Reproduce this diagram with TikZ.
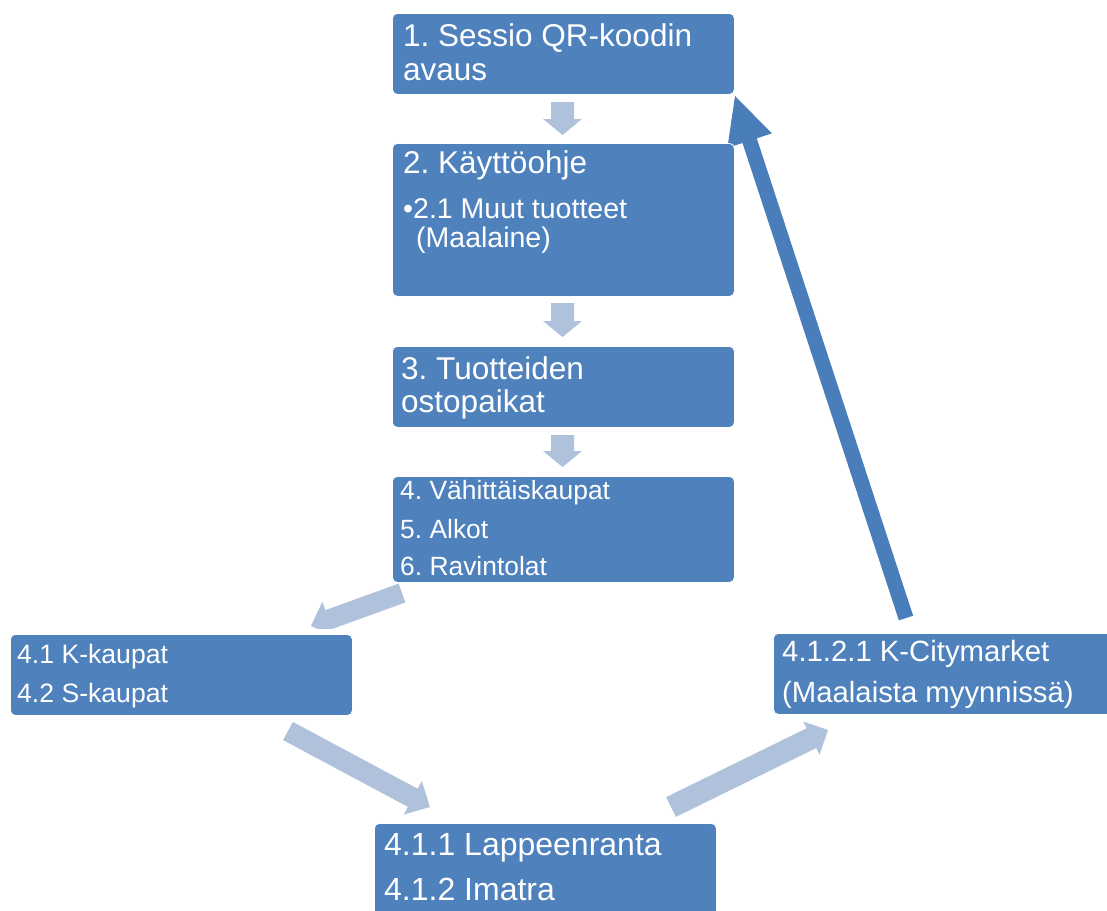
\documentclass[tikz,border=0pt]{standalone}
\usepackage{fontspec}
\setmainfont{Liberation Sans}
\usetikzlibrary{calc}
\frenchspacing
\definecolor{boxblue}{HTML}{4F81BD}
\definecolor{lightarrow}{HTML}{B0C1DC}
\definecolor{darkarrow}{HTML}{4A7EBB}
\tikzset{
  box/.style={fill=boxblue, draw=white, line width=0.8pt, rounded corners=5pt, inner sep=0pt, anchor=north west},
  txt/.style={text=white, inner sep=0pt, anchor=base west},
  lightfill/.style={fill=lightarrow},
  darkfill/.style={fill=darkarrow}
}
% block arrow: #1 tail, #2 tip, #3 half shaft width, #4 half head width, #5 head length (pt), #6 style
\newcommand{\blockarr}[6]{%
  \coordinate (bah) at ($(#2)!#5pt!(#1)$);
  \fill[#6] ($(#1)!#3pt!90:(#2)$) -- ($(bah)!#3pt!90:(#2)$) -- ($(bah)!#4pt!90:(#2)$) -- (#2)
    -- ($(bah)!#4pt!-90:(#2)$) -- ($(bah)!#3pt!-90:(#2)$) -- ($(#1)!#3pt!-90:(#2)$) -- cycle;
}
\begin{document}
\begin{tikzpicture}[x=1pt, y=-1pt]
\useasboundingbox (0,0) rectangle (1107,910);
\clip (0,0) rectangle (1107,910);

% arrow end points
\coordinate (a1s) at (562.5,102); \coordinate (a1e) at (562.5,135);
\coordinate (a2s) at (562.5,303); \coordinate (a2e) at (562.5,337);
\coordinate (a3s) at (562.5,435); \coordinate (a3e) at (562.5,467);
\coordinate (l1s) at (402,593);   \coordinate (l1e) at (311,626);
\coordinate (l2s) at (288,731);   \coordinate (l2e) at (430,807);
\coordinate (l3s) at (671,807);   \coordinate (l3e) at (828,730);
\coordinate (das) at (906,618);   \coordinate (dae) at (735,96);

% arrows
\blockarr{a1s}{a1e}{11.5}{19.5}{16}{lightfill}
\blockarr{a2s}{a2e}{11.5}{19.5}{16}{lightfill}
\blockarr{a3s}{a3e}{11.5}{19.5}{16}{lightfill}
\begin{scope}
  \clip (0,0) rectangle (1107,628);
  \blockarr{l1s}{l1e}{10}{19}{19}{lightfill}
\end{scope}
\blockarr{l2s}{l2e}{10.3}{19}{19.5}{lightfill}
\blockarr{l3s}{l3e}{11}{18.5}{18.5}{lightfill}
\blockarr{das}{dae}{7.5}{23.4}{47}{darkfill}

% boxes
\node[box, minimum width=342, minimum height=81] (b1) at (392,13) {};
\node[box, minimum width=342, minimum height=153] (b2) at (392,143) {};
\node[box, minimum width=342, minimum height=81] (b3) at (392,346) {};
\node[box, minimum width=342, minimum height=106] (b4) at (392,476) {};
\node[box, minimum width=342, minimum height=81] (b41) at (10,634) {};
\node[box, minimum width=342, minimum height=100] (b411) at (374,823) {};
\node[box, minimum width=342, minimum height=81] (b4121) at (773,633) {};

% texts
\node[txt, font=\fontsize{31.5}{34}\selectfont] (t1a) at (403,46) {1. Sessio QR-koodin};
\node[txt, font=\fontsize{31.5}{34}\selectfont] (t1b) at (403,80) {avaus};
\node[txt, font=\fontsize{31.5}{34}\selectfont] (t2a) at (403,173) {2. Käyttöohje};
\node[txt, font=\fontsize{28.5}{30}\selectfont] (t2b) at (403,218) {•2.1 Muut tuotteet};
\node[txt, font=\fontsize{28.5}{30}\selectfont] (t2c) at (416,247) {(Maalaine)};
\node[txt, font=\fontsize{31.5}{34}\selectfont] (t3a) at (401,379) {3. Tuotteiden};
\node[txt, font=\fontsize{31.5}{34}\selectfont] (t3b) at (401,412) {ostopaikat};
\node[txt, font=\fontsize{26.4}{28}\selectfont] (t4a) at (400,499) {4. Vähittäiskaupat};
\node[txt, font=\fontsize{26.4}{28}\selectfont] (t4b) at (400,538) {5. Alkot};
\node[txt, font=\fontsize{26.4}{28}\selectfont] (t4c) at (400,575) {6. Ravintolat};
\node[txt, font=\fontsize{26.6}{28}\selectfont] (t41a) at (17,663) {4.1 K-kaupat};
\node[txt, font=\fontsize{26.6}{28}\selectfont] (t41b) at (17,702) {4.2 S-kaupat};
\node[txt, font=\fontsize{32}{34}\selectfont] (t411a) at (384,855) {4.1.1 Lappeenranta};
\node[txt, font=\fontsize{32}{34}\selectfont] (t411b) at (384,900) {4.1.2 Imatra};
\node[txt, font=\fontsize{29.3}{31}\selectfont] (t4121a) at (782,661) {4.1.2.1 K-Citymarket};
\node[txt, font=\fontsize{29.3}{31}\selectfont] (t4121b) at (782,702) {(Maalaista myynnissä)};
\end{tikzpicture}
\end{document}
